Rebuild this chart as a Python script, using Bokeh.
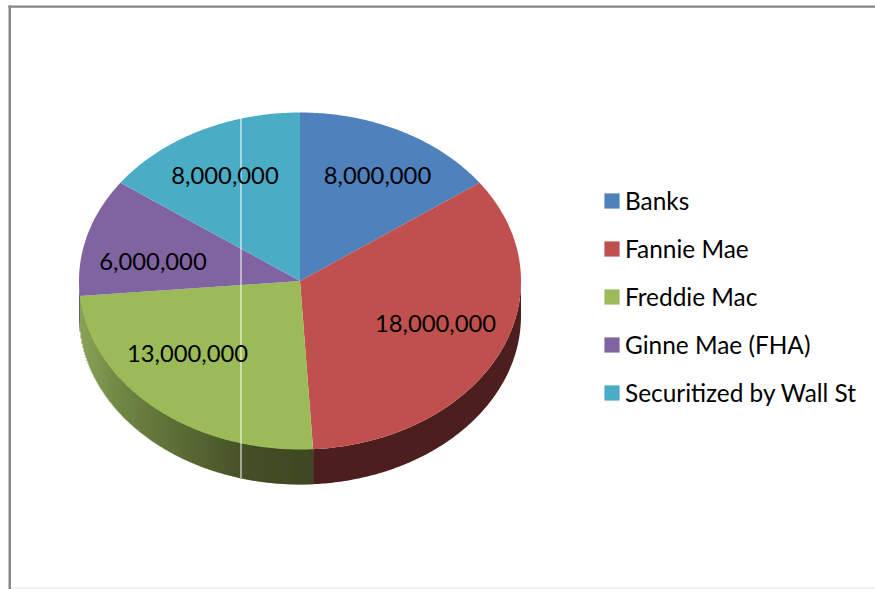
import math

from bokeh.core.properties import value
from bokeh.embed import file_html
from bokeh.models import Legend, LegendItem
from bokeh.plotting import figure
from bokeh.resources import INLINE

# Mortgage holdings by type of holder
categories = ["Banks", "Fannie Mae", "Freddie Mac", "Ginne Mae (FHA)", "Securitized by Wall St"]
holdings = [8000000, 18000000, 13000000, 6000000, 8000000]
top_colors = ["#4f81bd", "#c0504d", "#9bbb59", "#8064a2", "#4bacc6"]
wall_colors = ["#2c4869", "#4c1f1e", "#3f4822", "#5b4774", "#2a6072"]

# Freddie Mac's outer wall is lit from the left: (screen x, rgb) stops
lit_stops = [(79, (138, 163, 88)), (120, (112, 134, 68)), (190, (88, 104, 52)), (250, (68, 78, 38)), (313, (62, 71, 34))]

# Data label anchors, in the same order as the categories
label_x = [377, 435, 187, 152.5, 224.5]
label_y = [175, 323, 353, 261, 175]

CX, CY, RX, RY, DEPTH = 299.5, 280.5, 221.0, 168.5, 35.0
FONT = "Lato"


def rim(theta):
    """Point on the pie's top ellipse; theta runs clockwise from twelve o'clock."""
    return CX + RX * math.sin(theta), CY - RY * math.cos(theta)


def lit_color(x):
    for (x0, c0), (x1, c1) in zip(lit_stops, lit_stops[1:]):
        if x <= x1:
            t = max(0.0, (x - x0) / (x1 - x0))
            return "#%02x%02x%02x" % tuple(round(a + (b - a) * t) for a, b in zip(c0, c1))
    return "#%02x%02x%02x" % lit_stops[-1][1]


total = sum(holdings)
edges = [0.0]
for amount in holdings:
    edges.append(edges[-1] + amount / total * 2 * math.pi)

p = figure(width=875, height=589, x_range=(0, 875), y_range=(589, 0),
           output_backend="svg", toolbar_location=None, min_border=0)
p.axis.visible = False
p.grid.visible = False
p.outline_line_color = None
p.background_fill_color = "white"
p.border_fill_color = "white"

# Chart frame: heavy top and left rules, faint bottom rule
p.quad(left=[8, 8], right=[875, 10.5], top=[5, 5], bottom=[7.3, 589], fill_color="#868686", line_color=None)
p.quad(left=[10.5], right=[875], top=[587], bottom=[588], fill_color="#e3e3e3", line_color=None)

# Outer wall of the slices on the near half of the pie
for i in range(len(holdings)):
    start = max(edges[i], math.pi / 2)
    stop = min(edges[i + 1], 3 * math.pi / 2)
    if stop <= start:
        continue
    if categories[i] == "Freddie Mac":
        # Overlapping columns, painted left to right, keep the shading free of seams
        x_stop = rim(start)[0]
        lefts = list(range(math.floor(rim(stop)[0]), math.ceil(x_stop)))
        for x in lefts:
            u = max(-1.0, min(1.0, (x + 0.5 - CX) / RX))
            y = CY + RY * math.sqrt(1 - u * u)
            p.quad(left=[x], right=[min(x + 1.6, x_stop)], top=[y - 2], bottom=[y + DEPTH],
                   fill_color=lit_color(x + 0.5), line_color=None)
    else:
        n = max(2, int((stop - start) * 90))
        thetas = [start + (stop - start) * k / n for k in range(n + 1)]
        pts = [rim(t) for t in thetas]
        xs = [q[0] for q in pts] + [q[0] for q in reversed(pts)]
        ys = [q[1] for q in pts] + [q[1] + DEPTH for q in reversed(pts)]
        p.patch(xs, ys, fill_color=wall_colors[i], line_color=None)

# Top faces of the slices
items = []
for i, name in enumerate(categories):
    n = max(2, int((edges[i + 1] - edges[i]) * 90))
    thetas = [edges[i] + (edges[i + 1] - edges[i]) * k / n for k in range(n + 1)]
    pts = [rim(t) for t in thetas]
    r = p.patch([CX] + [q[0] for q in pts], [CY] + [q[1] for q in pts],
                fill_color=top_colors[i], line_color=None)
    items.append(LegendItem(label=value(name), renderers=[r]))

# Thin white rule crossing the pie
p.quad(left=[240], right=[241], top=[117], bottom=[477.5], fill_color="#ffffff", line_color=None)

# Value labels
p.text(x=label_x, y=label_y, text=[f"{v:,}" for v in holdings],
       text_font=value(FONT), text_font_size="23.8px", text_color="black",
       text_align="center", text_baseline="middle")

legend = Legend(items=items, location=(602, 182), orientation="vertical",
                glyph_width=19, glyph_height=19, label_standoff=4, spacing=19,
                label_height=29, label_text_font=FONT, label_text_font_size="24.4px",
                label_text_color="black", padding=0, margin=0,
                border_line_color=None, background_fill_alpha=0)
p.add_layout(legend, "center")

open("out.html", "w").write(file_html(p, INLINE))
